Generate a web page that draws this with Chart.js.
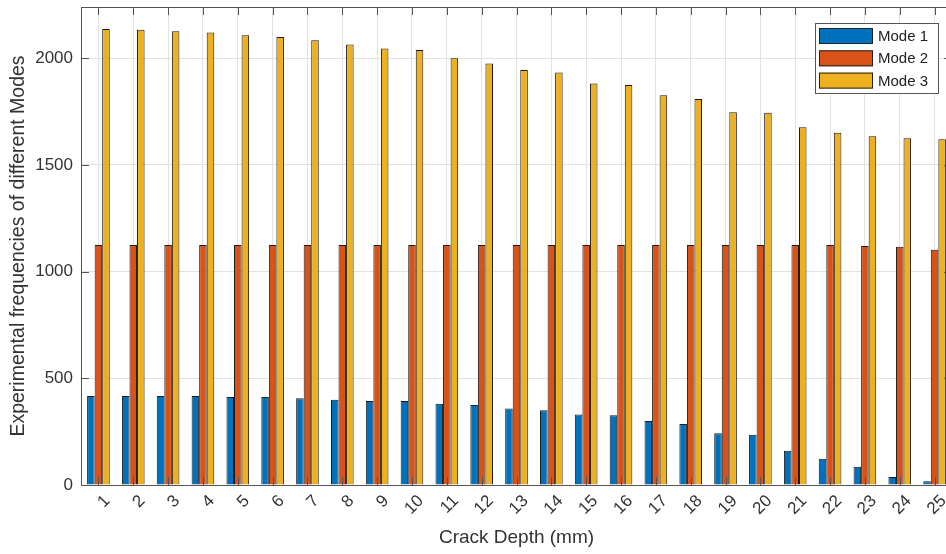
<!DOCTYPE html>
<html>
<head>
<meta charset="utf-8">
<script src="https://cdn.jsdelivr.net/npm/chart.js@4.4.1/dist/chart.umd.min.js"></script>
<style>
  html, body { margin: 0; padding: 0; background: #fff; overflow: hidden; }
  #wrap { width: 960px; height: 554px; position: relative; }
</style>
</head>
<body>
<div id="wrap"><canvas id="myChart"></canvas></div>
<script>
"use strict";
// crack depth categories (mm)
const depths = ["1", "2", "3", "4", "5", "6", "7", "8", "9", "10", "11", "12", "13",
  "14", "15", "16", "17", "18", "19", "20", "21", "22", "23", "24", "25"];

// experimental frequencies
const mode1 = [417, 417, 417, 417, 412, 412, 406, 400, 394, 394, 381, 375, 358,
  350, 330, 327, 300, 286, 242, 236, 161, 123, 86, 37, 17];
const mode2 = [1125, 1125, 1125, 1125, 1125, 1125, 1125, 1125, 1125, 1125, 1125, 1125, 1125,
  1125, 1125, 1125, 1125, 1125, 1125, 1125, 1125, 1125, 1120, 1116, 1102];
const mode3 = [2137, 2133, 2126, 2120, 2108, 2100, 2084, 2064, 2045, 2039, 2000, 1975, 1945,
  1933, 1881, 1874, 1826, 1809, 1747, 1744, 1677, 1651, 1634, 1625, 1620];

const seriesNames = ["Mode 1", "Mode 2", "Mode 3"];
const seriesColors = ["#0072BD", "#D95319", "#EDB120"];
const yTicks = [0, 500, 1000, 1500, 2000];
const yMax = 2240;

const fontFamily = '"Liberation Sans", Arial, sans-serif';
const axisColor = "#555555";
const gridColor = "#e2e2e2";
const textColor = "#333333";

// MATLAB style box + inward ticks
const framePlugin = {
  id: "frame",
  afterDatasetsDraw(chart) {
    const { ctx, chartArea: a } = chart;
    const xs = chart.scales.x;
    const ys = chart.scales.y;
    const len = 8;
    ctx.save();
    ctx.strokeStyle = axisColor;
    ctx.lineWidth = 1;
    ctx.beginPath();
    ctx.moveTo(a.left, a.top + 0.5);
    ctx.lineTo(a.right, a.top + 0.5);
    ctx.moveTo(a.right - 0.5, a.top);
    ctx.lineTo(a.right - 0.5, a.bottom);
    xs.ticks.forEach((t, i) => {
      const x = Math.round(xs.getPixelForTick(i)) + 0.5;
      ctx.moveTo(x, a.top);
      ctx.lineTo(x, a.top + len);
      ctx.moveTo(x, a.bottom);
      ctx.lineTo(x, a.bottom - len);
    });
    ys.ticks.forEach(t => {
      const y = Math.round(ys.getPixelForValue(t.value)) + 0.5;
      ctx.moveTo(a.left, y);
      ctx.lineTo(a.left + len, y);
      ctx.moveTo(a.right, y);
      ctx.lineTo(a.right - len, y);
    });
    ctx.stroke();
    ctx.restore();
  }
};

const legendPlugin = {
  id: "boxLegend",
  afterDraw(chart) {
    const { ctx, chartArea: a } = chart;
    const w = 123, h = 70;
    const bx = a.right - 14 - w;
    const by = a.top + 16;
    ctx.save();
    ctx.fillStyle = "#ffffff";
    ctx.fillRect(bx, by, w, h);
    ctx.strokeStyle = "#555555";
    ctx.lineWidth = 1;
    ctx.strokeRect(bx + 0.5, by + 0.5, w, h);
    ctx.font = "15px " + fontFamily;
    ctx.textBaseline = "middle";
    chart.data.datasets.forEach((ds, i) => {
      const cy = by + 13 + i * 22.3;
      ctx.fillStyle = ds.backgroundColor;
      ctx.fillRect(bx + 4, cy - 8, 54, 16);
      ctx.strokeStyle = "#222222";
      ctx.strokeRect(bx + 4.5, cy - 7.5, 53, 15);
      ctx.fillStyle = "#222222";
      ctx.fillText(ds.label, bx + 63, cy + 1);
    });
    ctx.restore();
  }
};

const ctx = document.getElementById("myChart").getContext("2d");
const chart = new Chart(ctx, {
  type: "bar",
  data: {
    labels: depths,
    datasets: [mode1, mode2, mode3].map((vals, i) => ({
      label: seriesNames[i],
      data: vals,
      backgroundColor: seriesColors[i],
      borderColor: "#1a1a1a",
      borderWidth: 1,
      barPercentage: 1,
      categoryPercentage: 0.65
    }))
  },
  options: {
    responsive: true,
    maintainAspectRatio: false,
    animation: false,
    layout: { padding: { top: 7, right: 8, left: 0, bottom: 0 } },
    plugins: {
      legend: { display: false },
      tooltip: { enabled: false }
    },
    scales: {
      x: {
        offset: true,
        grid: { offset: false, color: gridColor, drawTicks: false },
        border: { color: axisColor, width: 1 },
        ticks: {
          font: { family: fontFamily, size: 17 },
          color: textColor,
          autoSkip: false,
          minRotation: 45,
          maxRotation: 45,
          labelOffset: 9,
          padding: 6
        },
        title: {
          display: true,
          text: "Crack Depth (mm)",
          font: { family: fontFamily, size: 19 },
          color: textColor,
          padding: { top: 0, bottom: 5 }
        },
        afterFit(scale) {
          scale.height = 69;
          scale.paddingLeft = 0;
          scale.paddingRight = 0;
        }
      },
      y: {
        min: 0,
        max: yMax,
        grid: { color: gridColor, drawTicks: false },
        border: { color: axisColor, width: 1 },
        afterBuildTicks(scale) {
          scale.ticks = yTicks.map(v => ({ value: v }));
        },
        ticks: {
          font: { family: fontFamily, size: 17 },
          color: textColor,
          padding: 8,
          callback: v => String(v)
        },
        title: {
          display: true,
          text: "Experimental frequencies of different Modes",
          font: { family: fontFamily, size: 19.5 },
          color: textColor,
          padding: { top: 7, bottom: 0 }
        },
        afterFit(scale) {
          scale.width = 81;
          scale.paddingTop = 0;
          scale.paddingBottom = 0;
        }
      }
    }
  },
  plugins: [framePlugin, legendPlugin]
});
</script>
</body>
</html>
